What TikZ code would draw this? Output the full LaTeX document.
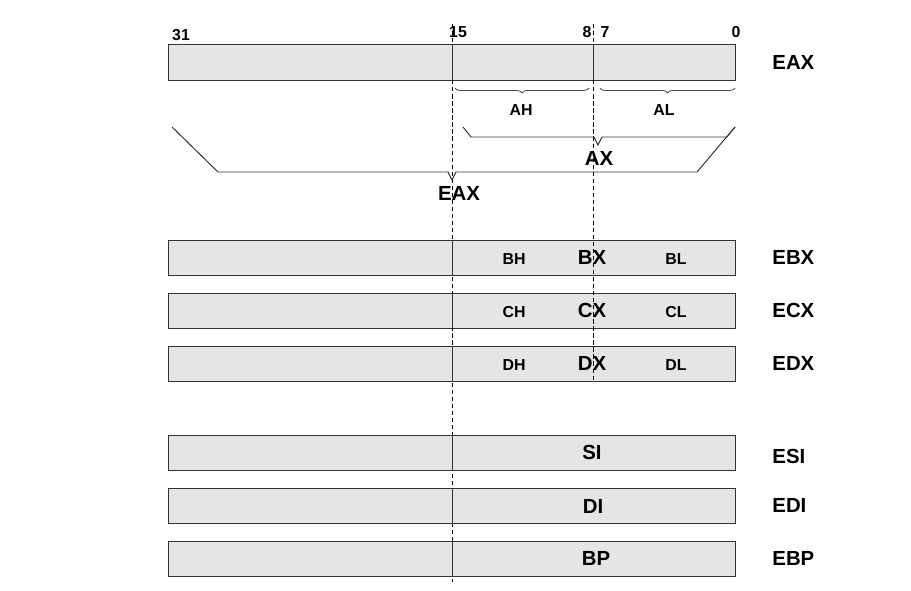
\documentclass[tikz,border=0pt]{standalone}
\usepackage{fontspec}
\setmainfont{Liberation Sans}
\usetikzlibrary{decorations.pathreplacing}
\colorlet{regfill}{gray!20}
\colorlet{regedge}{black!80}
\tikzset{
    regbox/.style={
        rectangle, draw=regedge, line width=0.7pt, fill=regfill,
        anchor=west, inner sep=0pt,
        minimum width=14.175cm, minimum height=0.875cm
    },
    reglbl/.style={font=\fontsize{14.5}{17}\selectfont\bfseries, inner sep=0pt},
    partlbl/.style={font=\fontsize{11.3}{13}\selectfont\bfseries, inner sep=0pt},
    bitlbl/.style={font=\fontsize{11.3}{13}\selectfont\bfseries, inner sep=0pt},
    guide/.style={line width=0.5pt, dash pattern=on 3pt off 2pt},
    divider/.style={line width=0.7pt, draw=regedge},
    bracket/.style={line width=0.7pt, draw=regedge},
    bytebrace/.style={decorate, decoration={brace, amplitude=3.5pt, mirror},
        line width=0.6pt, draw=black!70}
}

\begin{document}
\begin{tikzpicture}[x=0.025cm, y=-0.025cm]
    \useasboundingbox (0,0) rectangle (911,590);
    % register boxes
    \foreach \reg/\y in {eax/62.5, ebx/257.5, ecx/310.5, edx/363.5,
                         esi/452.5, edi/505.5, ebp/558.5}
        \node[regbox] (\reg) at (168,\y) {};
    % bit 15 and bit 8 guides
    \coordinate (hitop) at (452,24);
    \coordinate (hibot) at (452,582);
    \coordinate (lotop) at (593,24);
    \coordinate (lobot) at (593,382);
    \draw[guide] (hitop) -- (hibot);
    \draw[guide] (lotop) -- (lobot);
    \foreach \reg in {eax,ebx,ecx,edx,esi,edi,ebp}
        \draw[divider] (\reg.north -| hitop) -- (\reg.south -| hitop);
    \draw[divider] (eax.north -| lotop) -- (eax.south -| lotop);
    % bit numbers
    \node[bitlbl] (b31) at (181,35) {31};
    \node[bitlbl] (b15) at (458,32) {15};
    \node[bitlbl] (b8) at (587,32) {8};
    \node[bitlbl] (b7) at (605,32) {7};
    \node[bitlbl] (b0) at (736,32) {0};
    % AH / AL braces
    \draw[bytebrace] (455,88) -- (589,88);
    \draw[bytebrace] (600,88) -- (735,88);
    \node[partlbl] (ah) at (521,110) {AH};
    \node[partlbl] (al) at (664,110) {AL};
    % AX and EAX brackets
    \draw[bracket] (463,127) -- (471,137) -- (594,137) -- (598,145)
        -- (602,137) -- (727,137) -- (735,127);
    \node[reglbl] (ax) at (599,158) {AX};
    \draw[bracket] (172,127) -- (218,172) -- (448,172) -- (452,180)
        -- (456,172) -- (697,172) -- (735,127);
    \node[reglbl] (eaxsub) at (459,193) {EAX};
    % byte and word names inside the boxes
    \foreach \r/\y in {B/259, C/312, D/365} {
        \node[partlbl] (\r hi) at (514,\y) {\r H};
        \node[reglbl] (\r x) at (592,\y-1.5) {\r X};
        \node[partlbl] (\r lo) at (676,\y) {\r L};
    }
    \node[reglbl] (si) at (592,452) {SI};
    \node[reglbl] (di) at (593,506) {DI};
    \node[reglbl] (bp) at (596,558) {BP};
    % register names
    \foreach \reg/\txt/\dy in {eax/EAX/0, ebx/EBX/0, ecx/ECX/0, edx/EDX/0,
                               esi/ESI/4, edi/EDI/0, ebp/EBP/0}
        \node[reglbl, anchor=west] (\reg name)
            at ([xshift=36*0.025cm, yshift=-\dy*0.025cm]\reg.east) {\txt};
\end{tikzpicture}
\end{document}
